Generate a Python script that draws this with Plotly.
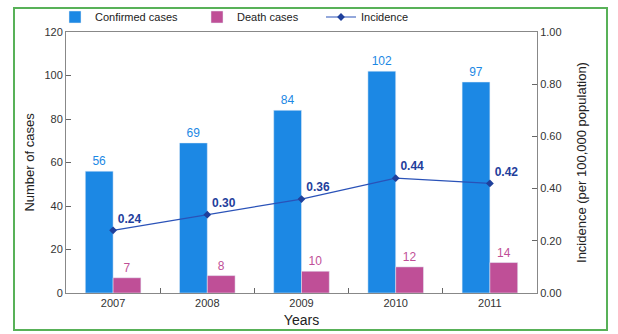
import plotly.graph_objects as go

years = ["2007", "2008", "2009", "2010", "2011"]
confirmed = [56, 69, 84, 102, 97]
deaths = [7, 8, 10, 12, 14]
incidence = [0.24, 0.30, 0.36, 0.44, 0.42]

W, H = 618, 334
L, R, T, B = 66, 81, 32, 41
pw, ph = W - L - R, H - T - B

FONT = "Liberation Sans, Arial, sans-serif"
BLUE = "#1c88e4"
PINK = "#bf4f97"
LINE = "#2a52b8"
LBL = "#1f409c"

fig = go.Figure()
fig.add_trace(go.Bar(x=years, y=confirmed, name="Confirmed cases", marker_color=BLUE,
                     text=[str(v) for v in confirmed], textposition="outside",
                     textfont=dict(color=BLUE, size=12), cliponaxis=False, legend="legend"))
fig.add_trace(go.Bar(x=years, y=deaths, name="Death cases", marker_color=PINK,
                     text=[str(v) for v in deaths], textposition="outside",
                     textfont=dict(color=PINK, size=12), cliponaxis=False, legend="legend2"))
fig.add_trace(go.Scatter(x=years, y=incidence, name="Incidence", yaxis="y2",
                         mode="lines+markers+text",
                         line=dict(color=LINE, width=1.2),
                         marker=dict(symbol="diamond", size=6, color=LBL),
                         text=[f"{v:.2f}" for v in incidence], textposition="top right",
                         textfont=dict(color=LBL, size=12, family="Liberation Sans, Arial", weight="bold"),
                         cliponaxis=False, legend="legend3"))

def px(x):
    return (x - L) / pw
def py(y):
    return (H - B - y) / ph

fig.add_shape(type="rect", xref="paper", yref="paper",
              x0=px(14), x1=px(607), y0=py(330), y1=py(8),
              line=dict(color="#58b158", width=2), fillcolor="rgba(0,0,0,0)", layer="below")

def leg(x):
    return dict(orientation="h", x=px(x), y=py(17), xanchor="left", yanchor="middle",
                font=dict(size=11, color="#222"), itemwidth=30, bgcolor="rgba(0,0,0,0)")

fig.update_layout(
    width=W, height=H, margin=dict(l=L, r=R, t=T, b=B, autoexpand=False),
    paper_bgcolor="white", plot_bgcolor="white",
    font=dict(family=FONT, size=11, color="#333"),
    barmode="group", bargap=0.41, bargroupgap=0,
    showlegend=True,
    legend=leg(55), legend2=leg(197), legend3=leg(321),
    xaxis=dict(type="category", showline=True, linecolor="#888", mirror=True, automargin=False,
               ticks="inside", tickson="boundaries", ticklen=5, tickcolor="#666",
               tickfont=dict(size=11, color="#333"),
               title=dict(text="Years", font=dict(size=14, color="#222"), standoff=6)),
    yaxis=dict(range=[0, 120], dtick=20, showgrid=False, showline=True, linecolor="#888",
               ticks="inside", ticklen=5, tickcolor="#666", zeroline=False, automargin=False,
               tickfont=dict(size=11, color="#333"),
               title=dict(text="Number of cases", font=dict(size=13, color="#222"), standoff=6)),
    yaxis2=dict(range=[0, 1], dtick=0.2, tickformat=".2f", overlaying="y", side="right",
                showgrid=False, showline=True, linecolor="#888", ticks="inside", ticklen=5,
                tickcolor="#666", zeroline=False, automargin=False, tickfont=dict(size=11, color="#333"),
                title=dict(text="Incidence (per 100,000 population)", font=dict(size=13, color="#222"),
                           standoff=16)),
)

fig.write_html("out.html")
